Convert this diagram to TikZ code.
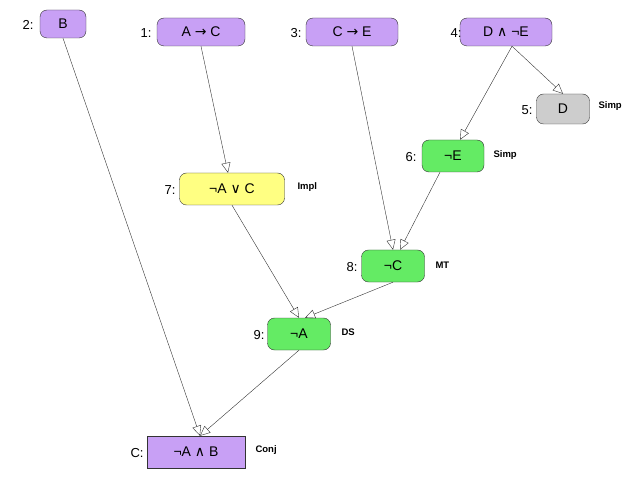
\documentclass[tikz,border=0pt]{standalone}
\usepackage{fontspec}
\setmainfont{Liberation Sans}
\newfontfamily\djv{DejaVu Sans}
\usetikzlibrary{arrows.meta}
\begin{document}
\begin{tikzpicture}[x=1pt,y=-1pt,
 box/.style={draw=black!80,rounded corners=7pt,minimum height=28pt,font=\fontsize{14}{16}\selectfont,inner sep=2pt},
 pur/.style={box,fill={rgb,255:red,200;green,160;blue,245}},
 grn/.style={box,fill={rgb,255:red,100;green,235;blue,100}},
 yel/.style={box,fill={rgb,255:red,255;green,255;blue,130}},
 gry/.style={box,fill={rgb,255:red,205;green,205;blue,205}},
 lab/.style={font=\fontsize{13}{15}\selectfont},
 rule/.style={font=\bfseries\fontsize{9.5}{11}\selectfont,anchor=west},
 arr/.style={draw=black!80,-{Triangle[open,length=10pt,width=9pt]}}]
\useasboundingbox (0,0) rectangle (640,497);
\node[pur,minimum width=46pt] (n2) at (63,24) {B};
\node[lab] (l2) at (28,25) {2:};
\node[pur,minimum width=88pt] (n1) at (201,32) {A {\djv→} C};
\node[lab] (l1) at (146,33) {1:};
\node[pur,minimum width=92pt] (n3) at (352,32) {C {\djv→} E};
\node[lab] (l3) at (296,33) {3:};
\node[pur,minimum width=92pt] (n4) at (506,32) {D {\djv∧} ¬E};
\node[lab] (l4) at (456,33) {4:};
\node[gry,minimum width=53pt,minimum height=30pt] (n5) at (563,109) {D};
\node[lab] (l5) at (527,110) {5:};
\node[rule] (r5) at (595,106) {Simp};
\node[grn,minimum width=62pt,minimum height=32pt] (n6) at (453,156) {¬E};
\node[lab] (l6) at (411,157) {6:};
\node[rule] (r6) at (490,155) {Simp};
\node[yel,minimum width=105pt,minimum height=32pt] (n7) at (232,189) {¬A {\djv∨} C};
\node[lab] (l7) at (170,190) {7:};
\node[rule] (r7) at (294,187) {Impl};
\node[grn,minimum width=63pt,minimum height=32pt] (n8) at (393,266) {¬C};
\node[lab] (l8) at (352,267) {8:};
\node[rule] (r8) at (432,265) {MT};
\node[grn,minimum width=63pt,minimum height=32pt] (n9) at (299,334) {¬A};
\node[lab] (l9) at (259,335) {9:};
\node[rule] (r9) at (338,332) {DS};
\node[pur,rounded corners=0pt,minimum width=98pt,minimum height=32pt] (nc) at (196,452) {¬A {\djv∧} B};
\node[lab] (lc) at (137,453) {C:};
\node[rule] (rc) at (252,450) {Conj};
\draw[arr] (n2.south) -- ([xshift=4pt]nc.north);
\draw[arr] (n1.south) -- ([xshift=-4pt]n7.north);
\draw[arr] (n3.south) -- (n8.north);
\draw[arr] ([xshift=6pt]n4.south) -- ([xshift=7pt]n6.north);
\draw[arr] ([xshift=6pt]n4.south) -- (n5.north);
\draw[arr] ([xshift=-13pt]n6.south) -- ([xshift=7pt]n8.north);
\draw[arr] (n7.south) -- (n9.north);
\draw[arr] (n8.south) -- ([xshift=6pt]n9.north);
\draw[arr] (n9.south) -- ([xshift=4pt]nc.north);
\end{tikzpicture}
\end{document}
